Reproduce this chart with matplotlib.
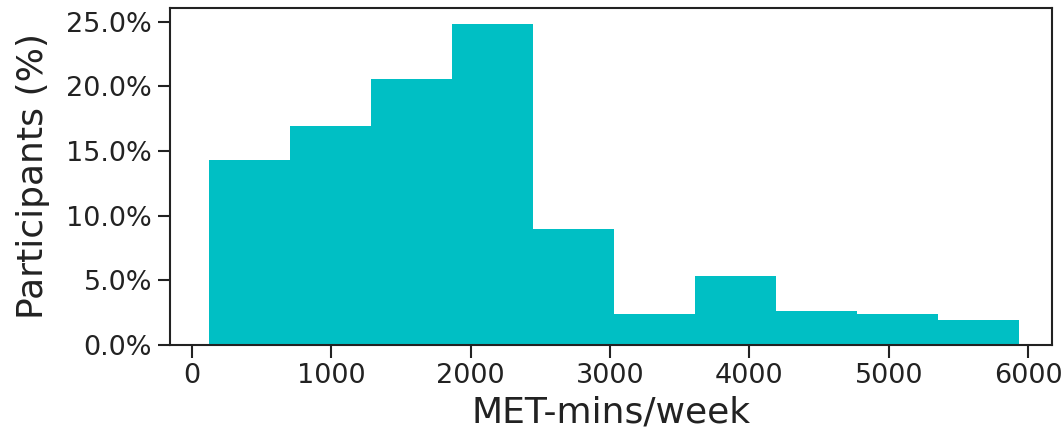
import matplotlib
matplotlib.use("Agg")
import matplotlib.pyplot as plt
import matplotlib.ticker as ticker
import numpy as np

# histogram of weekly MET-minutes, 10 equal bins
bin_start = 122
bin_end = 5933
n_bins = 10
pct = [14.3, 16.9, 20.6, 24.8, 9.0, 2.35, 5.3, 2.65, 2.35, 1.9]

edges = np.linspace(bin_start, bin_end, n_bins + 1)

fig = plt.figure(figsize=(10.63, 4.36), dpi=100)
ax = fig.add_axes([0.16, 0.209, 0.8297, 0.7727])

ax.hist(edges[:-1], bins=edges, weights=pct, color="#00BFC4")

ax.set_xlim(-158, 6172)
ax.set_ylim(0, 26.06)
ax.set_xticks([0, 1000, 2000, 3000, 4000, 5000, 6000])
ax.set_yticks([0, 5, 10, 15, 20, 25])
ax.yaxis.set_major_formatter(ticker.PercentFormatter(decimals=1))
ax.tick_params(labelsize=19.5, width=1.5, length=9, pad=4, colors="#222222", labelcolor="#222222")
for s in ax.spines.values():
    s.set_linewidth(1.5)
    s.set_color("#222222")

ax.set_xlabel("MET-mins/week", fontsize=26, color="#222222", labelpad=5)
ax.set_ylabel("Participants (%)", fontsize=26, color="#222222", labelpad=12)

fig.savefig("out.png", dpi=100)
